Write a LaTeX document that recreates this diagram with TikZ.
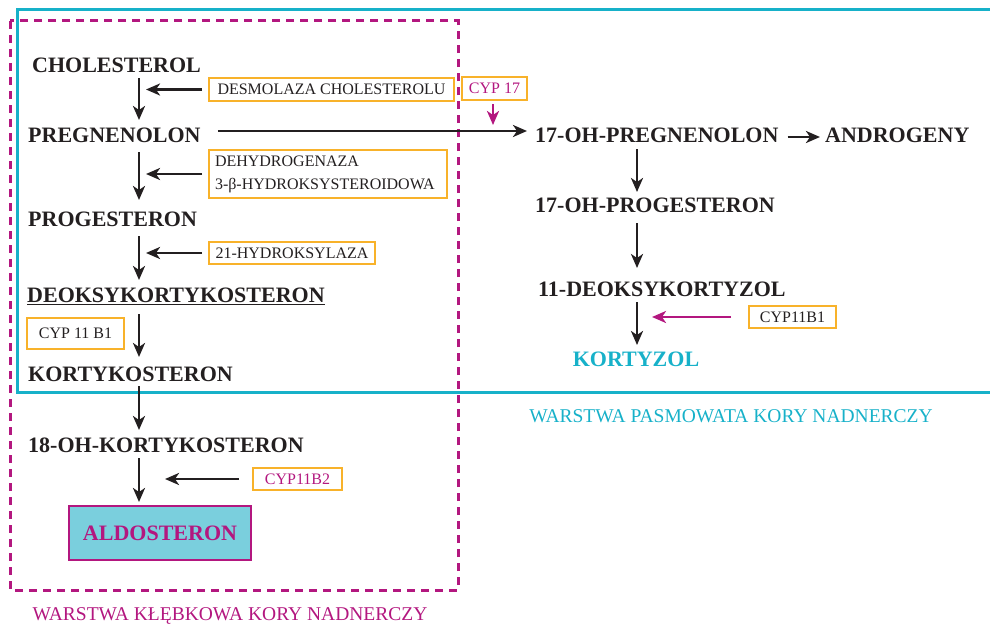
\documentclass[tikz,border=0pt]{standalone}
\usepackage{fontspec}
\setmainfont{Liberation Serif}
\usetikzlibrary{arrows.meta}
\definecolor{txt}{HTML}{231F20}
\definecolor{cyn}{HTML}{17B1C9}
\definecolor{mag}{HTML}{B3177F}
\definecolor{org}{HTML}{F8B22A}
\definecolor{aldofill}{HTML}{7ACFDD}
\tikzset{
  big/.style={font=\fontsize{22}{24}\selectfont\bfseries, text=txt, inner sep=0pt, text height=14.6pt, text depth=0pt, anchor=west},
  enz/.style={draw=org, line width=2pt, font=\fontsize{16}{23}\selectfont, text=txt, inner sep=0pt, align=center},
  arr/.style={draw=txt, line width=2.6pt, -{Stealth[length=14pt,width=12pt,inset=4pt]}},
  marr/.style={draw=mag, line width=2.6pt, -{Stealth[length=14pt,width=12pt,inset=4pt]}},
  zone/.style={font=\fontsize{19.5}{22}\selectfont, inner sep=0pt}
}
\begin{document}
\begin{tikzpicture}[x=1pt,y=-1pt]
\useasboundingbox (0,0) rectangle (990,626);
% zones
\draw[cyn, line width=3pt] (992,10) -- (17,10) -- (17,392) -- (992,392);
\draw[mag, line width=3pt, dash pattern=on 8pt off 6pt] (10,21) rectangle (458,590);
% left column
\node[big] (chol) at (32,65.5) {CHOLESTEROL};
\node[big] (preg) at (28,135.5) {PREGNENOLON};
\node[big] (prog) at (28,219.5) {PROGESTERON};
\node[big] (deok) at (27,295.5) {\underline{DEOKSYKORTYKOSTERON}};
\node[big] (kort) at (28,374.5) {KORTYKOSTERON};
\node[big] (oh18) at (28,445.5) {18-OH-KORTYKOSTERON};
\node[draw=mag, line width=2pt, fill=aldofill, minimum width=182pt, minimum height=54pt, inner sep=0pt,
      font=\fontsize{22}{24}\selectfont\bfseries, text=mag] (aldo) at (160,533) {ALDOSTERON};
% right column
\node[big] (ohpreg) at (535,135.5) {17-OH-PREGNENOLON};
\node[big] (andro) at (825,135.5) {ANDROGENY};
\node[big] (ohprog) at (535,205.5) {17-OH-PROGESTERON};
\node[big] (deokk) at (538,289.5) {11-DEOKSYKORTYZOL};
\node[big, anchor=center, text=cyn] (kortyzol) at (636,359.5) {KORTYZOL};
% enzymes
\node[enz, minimum width=245pt, minimum height=23pt] (desm) at (331.5,89.5) {DESMOLAZA CHOLESTEROLU};
\node[enz, minimum width=238pt, minimum height=48pt, align=left, text width=226pt] (dehy) at (328,174) {DEHYDROGENAZA\\3-β-HYDROKSYSTEROIDOWA};
\node[enz, minimum width=166pt, minimum height=22pt] (hydr) at (292,253) {21-HYDROKSYLAZA};
\node[enz, minimum width=97pt, minimum height=31pt] (cypl) at (75.5,333.5) {CYP 11 B1};
\node[enz, minimum width=89pt, minimum height=22pt, text=mag] (cyp2) at (297.5,479) {CYP11B2};
\node[enz, minimum width=65pt, minimum height=23pt, text=mag] (cyp17) at (494.5,88.5) {CYP 17};
\node[enz, minimum width=87pt, minimum height=22pt] (cypr) at (792.5,317) {CYP11B1};
% zone labels
\node[zone, text=cyn] (zpas) at (731,416.5) {WARSTWA PASMOWATA KORY NADNERCZY};
\node[zone, text=mag] (zkle) at (230,615.5) {WARSTWA KŁĘBKOWA KORY NADNERCZY};
% helper coordinates
\coordinate (lx) at (139,0);
\coordinate (lt) at (146,0);
\coordinate (rx) at (637,0);
\coordinate (t17) at (493,125);
\coordinate (tb2) at (165,0);
\coordinate (tr) at (652,0);
% main vertical arrows
\draw[arr, shorten <=5pt, shorten >=8pt] (chol.south -| lx) -- (preg.north -| lx);
\draw[arr, shorten <=9pt, shorten >=12pt] (preg.south -| lx) -- (prog.north -| lx);
\draw[arr, shorten <=9pt, shorten >=8pt] (prog.south -| lx) -- (deok.north -| lx);
\draw[arr, shorten <=11pt, shorten >=10pt] (deok.south -| lx) -- (kort.north -| lx);
\draw[arr, shorten <=4pt, shorten >=8pt] (kort.south -| lx) -- (oh18.north -| lx);
\draw[arr, shorten <=5pt, shorten >=3pt] (oh18.south -| lx) -- (aldo.north -| lx);
\draw[arr, shorten <=17pt, shorten >=8pt] ([yshift=4.5pt]preg.east) -- ([yshift=4.5pt]ohpreg.west);
\draw[arr, shorten <=9pt, shorten >=5pt] ([yshift=-1.5pt]ohpreg.east) -- ([yshift=-1.5pt]andro.west);
\draw[arr, shorten <=6pt, shorten >=6pt] (ohpreg.south -| rx) -- (ohprog.north -| rx);
\draw[arr, shorten <=10pt, shorten >=14pt] (ohprog.south -| rx) -- (deokk.north -| rx);
\draw[arr, shorten <=5pt, shorten >=7pt] (deokk.south -| rx) -- (kortyzol.north -| rx);
% enzyme arrows
\draw[arr, shorten <=6pt] (desm.west) -- (desm.west -| lt);
\draw[arr, shorten <=6pt] (dehy.west) -- (dehy.west -| lt);
\draw[arr, shorten <=6pt] (hydr.west) -- (hydr.west -| lt);
\draw[arr, shorten <=13pt] (cyp2.west) -- (cyp2.west -| tb2);
\draw[marr, shorten <=3pt] (cyp17.south -| t17) -- (t17);
\draw[marr, shorten <=17pt] (cypr.west) -- (cypr.west -| tr);
\end{tikzpicture}
\end{document}
